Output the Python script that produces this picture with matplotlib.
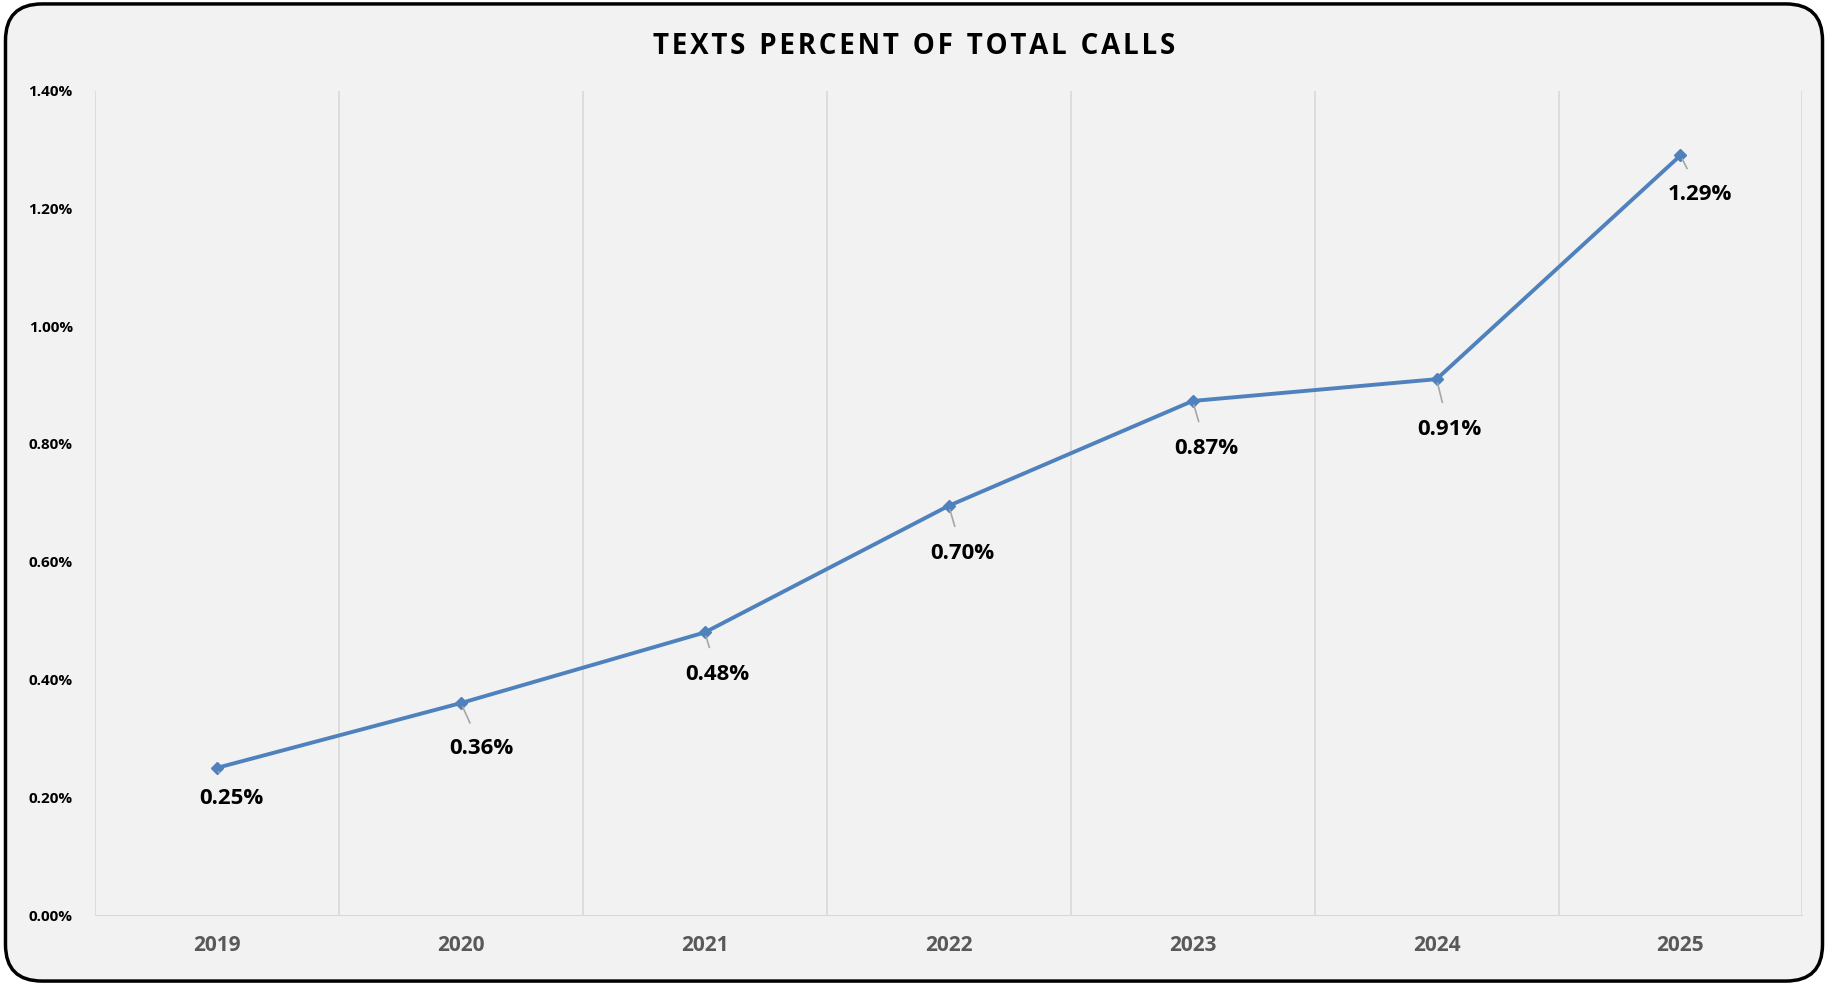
import matplotlib.pyplot as plt
from matplotlib.patches import FancyBboxPatch
from matplotlib.ticker import PercentFormatter

years = ['2019', '2020', '2021', '2022', '2023', '2024', '2025']
pct = [0.25, 0.36, 0.48, 0.695, 0.873, 0.91, 1.29]
labels = ['0.25%', '0.36%', '0.48%', '0.70%', '0.87%', '0.91%', '1.29%']
# label offsets in points (below-right of marker)
offsets = [(10, -22), (15, -33), (9, -30), (10, -34), (10, -34), (9, -36), (14, -28)]

plt.rcParams['font.family'] = ['Open Sans', 'DejaVu Sans']

fig = plt.figure(figsize=(18.28, 9.85), dpi=100)
fig.patch.set_facecolor('white')
fig.patches.append(FancyBboxPatch((0.003, 0.004), 0.994, 0.992, boxstyle='round,pad=0,rounding_size=0.02',
                                  transform=fig.transFigure, facecolor='#f2f2f2', edgecolor='black',
                                  linewidth=2.5, mutation_aspect=1.85, zorder=-10))

ax = fig.add_axes([0.052, 0.071, 0.934, 0.837])
ax.set_zorder(1)
ax.set_facecolor('#f2f2f2')
x = list(range(len(years)))
ax.plot(x, pct, color='#4f81bd', linewidth=2.8, marker='D', markersize=6, zorder=3)

for xi, yi, lab, off in zip(x, pct, labels, offsets):
    ax.annotate(lab, (xi, yi), xytext=off, textcoords='offset points', ha='center', va='center',
                fontsize=16, fontweight='bold', color='black',
                arrowprops=dict(arrowstyle='-', color='#a6a6a6', lw=1.2, shrinkA=10, shrinkB=3))

ax.set_xlim(-0.5, len(years) - 0.5)
ax.set_ylim(0, 1.4)
ax.set_yticks([0, 0.2, 0.4, 0.6, 0.8, 1.0, 1.2, 1.4])
ax.yaxis.set_major_formatter(PercentFormatter(decimals=2))
ax.set_xticks(x)
ax.set_xticklabels(years)
ax.set_xticks([i - 0.5 for i in range(len(years) + 1)], minor=True)
ax.grid(True, which='minor', axis='x', color='#d9d9d9', linewidth=1.2)
ax.tick_params(axis='both', which='both', length=0)
ax.tick_params(axis='x', pad=14, labelsize=15, labelcolor='#595959')
ax.tick_params(axis='y', pad=16, labelsize=11)
for t in ax.get_xticklabels() + ax.get_yticklabels():
    t.set_fontweight('bold')
for s in ['top', 'right', 'left']:
    ax.spines[s].set_visible(False)
ax.spines['bottom'].set_color('#d9d9d9')

fig.text(0.5, 0.953, 'T E X T S   P E R C E N T   O F   T O T A L   C A L L S'.replace('   ', '\u2002').replace(' ', '\u200a'),
         ha='center', va='center', fontsize=20, fontweight='bold')

fig.savefig('out.png', dpi=100, facecolor=fig.get_facecolor())
